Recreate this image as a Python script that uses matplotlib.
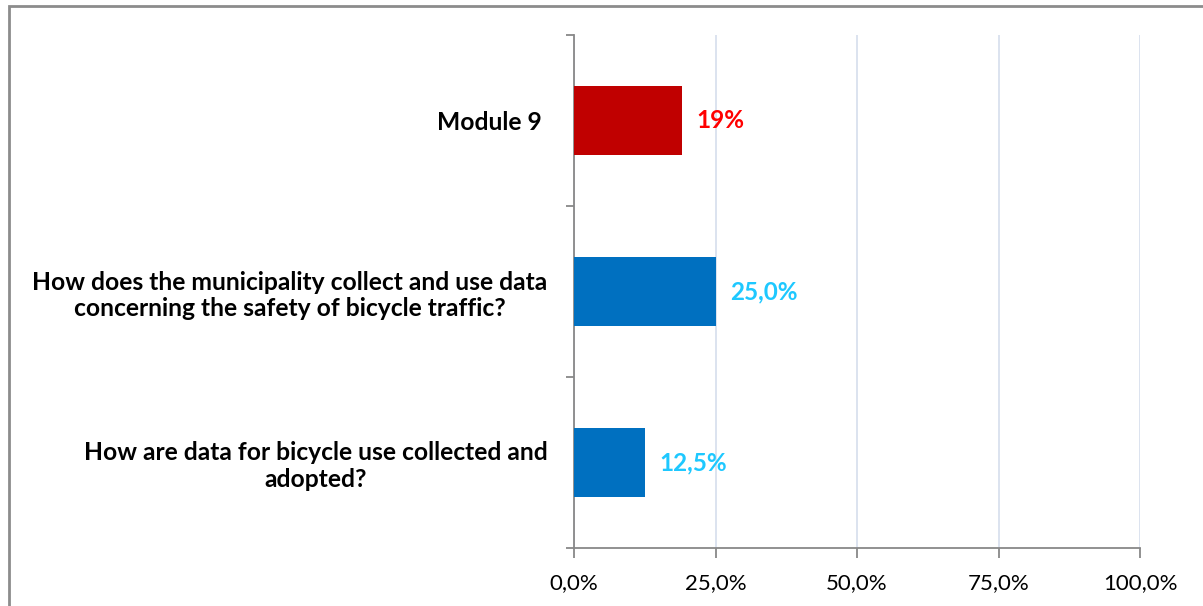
import matplotlib

matplotlib.use("Agg")
import matplotlib.pyplot as plt
from matplotlib.patches import Rectangle

# data (top to bottom as shown)
categories = [
    "Module 9 ",
    "How does the municipality collect and use data\nconcerning the safety of bicycle traffic?",
    "How are data for bicycle use collected and\nadopted?",
]
values = [19.0, 25.0, 12.5]
value_labels = ["19%", "25,0%", "12,5%"]
bar_colors = ["#C00000", "#0070C0", "#0070C0"]
label_colors = ["#FF0000", "#1EC8FF", "#1EC8FF"]
x_ticks = [0, 25, 50, 75, 100]
x_tick_labels = ["0,0%", "25,0%", "50,0%", "75,0%", "100,0%"]

plt.rcParams["font.family"] = ["Lato", "DejaVu Sans"]

fig = plt.figure(figsize=(12.03, 6.06), dpi=100)
ax = fig.add_axes([574 / 1203, 1 - 548 / 606, (1140 - 574) / 1203, (548 - 35) / 606])

ypos = list(range(len(categories)))[::-1]
ax.barh(ypos, values, height=0.4, color=bar_colors, zorder=3)

for y, v, lab, c in zip(ypos, values, value_labels, label_colors):
    ax.annotate(lab, (v, y), xytext=(15, 0), textcoords="offset pixels",
                ha="left", va="center", fontsize=17.5, fontweight="bold", color=c, zorder=4)

ax.set_xlim(0, 100)
ax.set_ylim(-0.5, len(categories) - 0.5)
ax.set_xticks(x_ticks)
ax.set_xticklabels(x_tick_labels, fontsize=16)
ax.xaxis.grid(True, color="#D9E1EE", linewidth=1.3, zorder=0)

# category boundaries as y ticks, labels in between
ax.set_yticks([-0.5, 0.5, 1.5, 2.5])
ax.set_yticklabels([])
ax.set_yticks(ypos, minor=True)
ax.set_yticklabels(categories, minor=True, fontsize=17.7, fontweight="bold",
                   multialignment="center")
ax.tick_params(axis="y", which="minor", length=0, pad=19)
ax.tick_params(axis="y", which="major", length=6, color="#888888", width=1.3)
ax.tick_params(axis="x", length=7, color="#888888", width=1.3, pad=11)

for side in ("top", "right"):
    ax.spines[side].set_visible(False)
for side in ("left", "bottom"):
    ax.spines[side].set_color("#888888")
    ax.spines[side].set_linewidth(1.3)

# outer frame of the chart area
fig.patches.append(Rectangle((8.5 / 1203, -0.05), 1.1, 1 - 5.5 / 606 + 0.05,
                             transform=fig.transFigure, fill=False,
                             edgecolor="#8C8C8C", linewidth=2))

fig.savefig("out.png", dpi=100)
